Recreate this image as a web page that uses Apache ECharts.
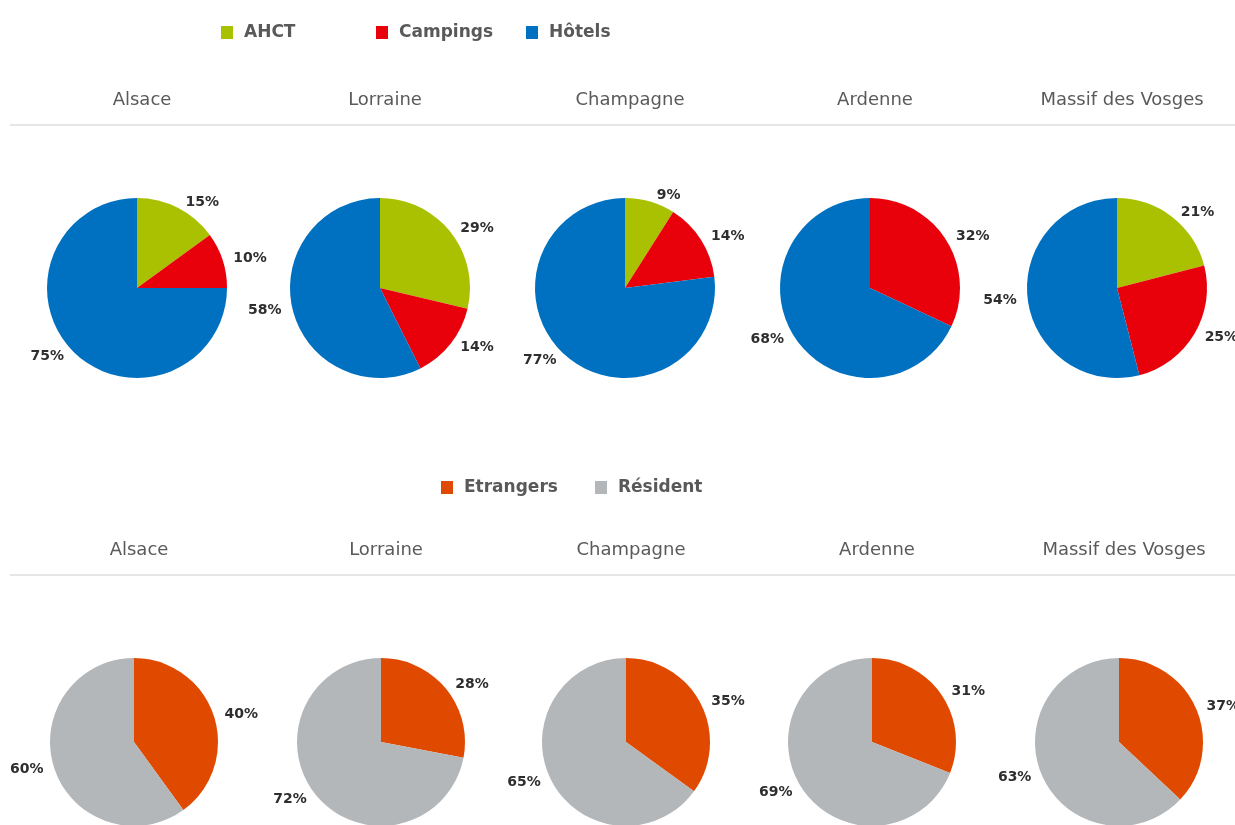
<!DOCTYPE html>
<html>
<head>
<meta charset="utf-8">
<script src="https://cdn.jsdelivr.net/npm/echarts@6/dist/echarts.min.js"></script>
<style>
html,body{margin:0;padding:0;background:#fff;}
#chart{width:1235px;height:825px;}
</style>
</head>
<body>
<div id="chart"></div>
<script>
// ---- data ----
const regions = ['Alsace', 'Lorraine', 'Champagne', 'Ardenne', 'Massif des Vosges'];
const typeNames = ['AHCT', 'Campings', 'Hôtels'];
const ahct     = [15, 29, 9, 0, 21];
const campings = [10, 14, 14, 32, 25];
const hotels   = [75, 58, 77, 68, 54];
const originNames = ['Etrangers', 'Résident'];
const etrangers = [40, 28, 35, 31, 37];
const residents = [60, 72, 65, 69, 63];

// ---- layout / style ----
const topCenters = [137, 380, 625, 870, 1117];
const botCenters = [134, 381, 626, 872, 1119];
const typeColors = ['#A9C100', '#E8000B', '#0070C0'];
const originColors = ['#E04A00', '#B4B7B9'];
const font = '"DejaVu Sans", Verdana, sans-serif';

const chart = echarts.init(document.getElementById('chart'));

const titles = [];
regions.forEach((r, i) => {
  titles.push({ text: r, left: topCenters[i], top: 86, textAlign: 'center',
    textStyle: { fontFamily: font, fontSize: 18, fontWeight: 'normal', color: '#5A5A5A' } });
  titles.push({ text: r, left: botCenters[i], top: 536, textAlign: 'center',
    textStyle: { fontFamily: font, fontSize: 18, fontWeight: 'normal', color: '#5A5A5A' } });
});

const labelCfg = {
  show: true, position: 'outside', formatter: '{c}%', overflow: 'none',
  fontFamily: font, fontSize: 14, fontWeight: 'bold', color: '#2E2E2E'
};

const series = [];
regions.forEach((r, i) => {
  const vals = [ahct[i], campings[i], hotels[i]];
  const data = [];
  vals.forEach((v, k) => { if (v > 0) data.push({ name: typeNames[k], value: v, itemStyle: { color: typeColors[k] } }); });
  series.push({
    type: 'pie', name: r + ' type', radius: 90, center: [topCenters[i], 288],
    startAngle: 90, clockwise: true, silent: true, animation: false,
    label: labelCfg, labelLine: { show: false, length: 6, length2: 0 },
    data: data
  });
  const vals2 = [etrangers[i], residents[i]];
  series.push({
    type: 'pie', name: r + ' origine', radius: 84, center: [botCenters[i], 742],
    startAngle: 90, clockwise: true, silent: true, animation: false,
    label: labelCfg, labelLine: { show: false, length: 6, length2: 0 },
    data: vals2.map((v, k) => ({ name: originNames[k], value: v, itemStyle: { color: originColors[k] } }))
  });
});

const legendText = { fontFamily: font, fontSize: 17, fontWeight: 'bold', color: '#595959', padding: [0, 0, 0, 6] };
const legendBase = { icon: 'rect', itemWidth: 12, itemHeight: 13, itemGap: 6, textStyle: legendText, selectedMode: false };

chart.setOption({
  backgroundColor: '#fff',
  animation: false,
  title: titles,
  legend: [
    Object.assign({}, legendBase, { data: ['AHCT'], left: 216, top: 19 }),
    Object.assign({}, legendBase, { data: ['Campings'], left: 371, top: 19 }),
    Object.assign({}, legendBase, { data: ['Hôtels'], left: 521, top: 19 }),
    Object.assign({}, legendBase, { data: ['Etrangers'], left: 436, top: 474 }),
    Object.assign({}, legendBase, { data: ['Résident'], left: 590, top: 474 })
  ],
  graphic: [
    { type: 'line', shape: { x1: 10, y1: 125, x2: 1235, y2: 125 }, style: { stroke: '#E6E6E6', lineWidth: 2 } },
    { type: 'line', shape: { x1: 10, y1: 575, x2: 1235, y2: 575 }, style: { stroke: '#E6E6E6', lineWidth: 2 } }
  ],
  series: series
});
</script>
</body>
</html>
